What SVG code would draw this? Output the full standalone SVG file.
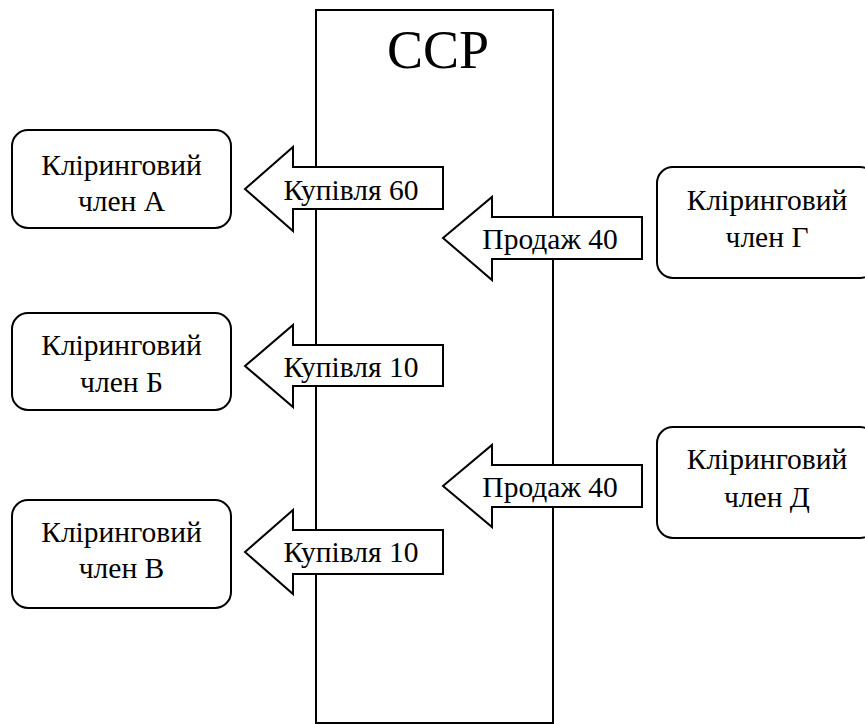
<svg xmlns="http://www.w3.org/2000/svg" width="865" height="724" viewBox="0 0 865 724">
<style>
.sh{fill:#fff;stroke:#000;stroke-width:2}
.t{fill:#000;text-anchor:middle;font-size:29.5px}
</style>
<rect x="0" y="0" width="865" height="724" fill="#fff"/>
<g font-family="'Liberation Serif', 'Times New Roman', serif">
<g id="ccp">
<rect class="sh" x="316" y="10" width="237" height="713"/>
<text x="438" y="68" font-size="54" text-anchor="middle">CCP</text>
</g>
<g id="connectors">
<g id="arrow-a">
<path class="sh" d="M443,167 L293,167 L293,147 L245,189 L293,231 L293,209 L443,209 Z"/>
<text class="t" x="351" y="200">Купівля 60</text>
</g>
<g id="arrow-b">
<path class="sh" d="M443,345 L293,345 L293,325 L245,366 L293,407 L293,386 L443,386 Z"/>
<text class="t" x="351" y="377">Купівля 10</text>
</g>
<g id="arrow-v">
<path class="sh" d="M443,530 L293,530 L293,510 L245,552 L293,594 L293,574 L443,574 Z"/>
<text class="t" x="351" y="562">Купівля 10</text>
</g>
<g id="arrow-g">
<path class="sh" d="M642,217 L492,217 L492,197 L443,238 L492,280 L492,259 L642,259 Z"/>
<text class="t" x="550" y="249">Продаж 40</text>
</g>
<g id="arrow-d">
<path class="sh" d="M642,465 L492,465 L492,445 L443,486 L492,527 L492,507 L642,507 Z"/>
<text class="t" x="550" y="497">Продаж 40</text>
</g>
</g>
<g id="node-a">
<rect class="sh" x="12" y="130" width="219" height="98" rx="16"/>
<text class="t" x="121.5" y="175">Кліринговий</text>
<text class="t" x="121.5" y="211">член А</text>
</g>
<g id="node-b">
<rect class="sh" x="12" y="313" width="219" height="97" rx="16"/>
<text class="t" x="121.5" y="355">Кліринговий</text>
<text class="t" x="121.5" y="392">член Б</text>
</g>
<g id="node-v">
<rect class="sh" x="12" y="500" width="219" height="108" rx="16"/>
<text class="t" x="121.5" y="542">Кліринговий</text>
<text class="t" x="121.5" y="578">член В</text>
</g>
<g id="node-g">
<rect class="sh" x="657" y="167" width="219" height="111" rx="16"/>
<text class="t" x="767" y="210">Кліринговий</text>
<text class="t" x="767" y="247">член Г</text>
</g>
<g id="node-d">
<rect class="sh" x="657" y="427" width="219" height="111" rx="16"/>
<text class="t" x="767" y="469">Кліринговий</text>
<text class="t" x="767" y="507">член Д</text>
</g>
</g>
</svg>
